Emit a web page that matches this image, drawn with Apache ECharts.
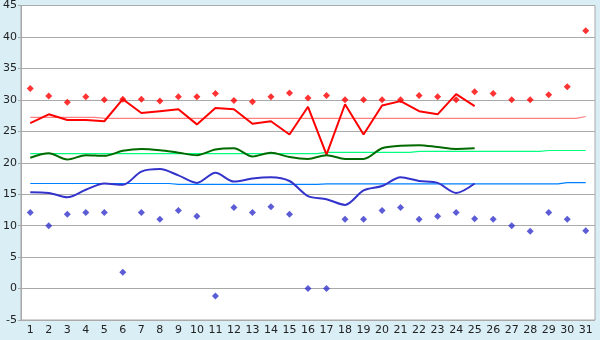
<!DOCTYPE html>
<html>
<head>
<meta charset="utf-8">
<script src="https://cdn.jsdelivr.net/npm/echarts@6/dist/echarts.min.js"></script>
<style>
  html, body { margin: 0; padding: 0; background: #daeef6; }
  #chart { width: 600px; height: 340px; }
</style>
</head>
<body>
<div id="chart"></div>
<script>
// days of the month
var days = [];
for (var d = 1; d <= 31; d++) days.push(String(d));

// daily mean max / mean / mean min (days 1-25)
var maxLine = [26.3, 27.7, 26.8, 26.8, 26.6, 30.1, 27.9, 28.2, 28.5, 26.1,
               28.7, 28.5, 26.2, 26.6, 24.5, 28.9, 21.3, 29.3, 24.5, 29.1,
               29.8, 28.2, 27.7, 30.9, 29.0];
var meanLine = [20.8, 21.5, 20.5, 21.2, 21.1, 21.9, 22.2, 22.0, 21.6, 21.2,
                22.1, 22.3, 21.0, 21.6, 20.9, 20.6, 21.2, 20.6, 20.6, 22.3,
                22.7, 22.8, 22.5, 22.2, 22.3];
var minLine = [15.3, 15.2, 14.5, 15.7, 16.7, 16.5, 18.6, 19.0, 18.0, 16.8,
               18.4, 17.0, 17.5, 17.7, 17.1, 14.7, 14.2, 13.3, 15.6, 16.3,
               17.7, 17.1, 16.8, 15.2, 16.7];

// record highs / lows per day
var maxPoints = [31.8, 30.6, 29.6, 30.5, 30.0, 30.1, 30.1, 29.8, 30.5, 30.5,
                 31.0, 29.9, 29.7, 30.5, 31.1, 30.3, 30.7, 30.0, 30.0, 30.0,
                 30.0, 30.7, 30.5, 30.0, 31.3, 31.0, 30.0, 30.0, 30.8, 32.1,
                 41.0];
var minPoints = [12.1, 10.0, 11.8, 12.1, 12.1, 2.6, 12.1, 11.0, 12.4, 11.5,
                 -1.2, 12.9, 12.1, 13.0, 11.8, 0.0, 0.0, 11.0, 11.0, 12.4,
                 12.9, 11.0, 11.5, 12.1, 11.1, 11.0, 10.0, 9.1, 12.1, 11.0,
                 9.2];

// long-term normals
var normMax = [27.2, 27.2, 27.2, 27.2, 27.05, 27.05, 27.05, 27.05, 27.05, 27.05,
               27.05, 27.05, 27.05, 27.05, 27.05, 27.05, 27.05, 27.05, 27.05, 27.05,
               27.05, 27.05, 27.05, 27.05, 27.05, 27.05, 27.05, 27.05, 27.05, 27.05,
               27.35];
var normMean = [21.45, 21.45, 21.45, 21.45, 21.45, 21.45, 21.45, 21.45, 21.45, 21.45,
                21.45, 21.45, 21.45, 21.45, 21.45, 21.45, 21.65, 21.65, 21.65, 21.65,
                21.65, 21.8, 21.8, 21.8, 21.8, 21.8, 21.8, 21.8, 21.95, 21.95,
                21.95];
var normMin = [16.7, 16.7, 16.7, 16.7, 16.7, 16.7, 16.7, 16.7, 16.55, 16.55,
               16.55, 16.55, 16.55, 16.55, 16.55, 16.55, 16.65, 16.65, 16.65, 16.65,
               16.65, 16.65, 16.65, 16.65, 16.65, 16.65, 16.65, 16.65, 16.65, 16.85,
               16.85];

var chart = echarts.init(document.getElementById('chart'));

function lineSeries(data, color, width, smooth) {
    return {
        type: 'line', data: data, symbol: 'none', smooth: smooth,
        lineStyle: { color: color, width: width }, animation: false
    };
}
function stepSeries(data, color) {
    return {
        type: 'line', data: data, symbol: 'none', step: 'middle',
        lineStyle: { color: color, width: 1.2 }, animation: false, z: 1
    };
}
function dotSeries(data, color) {
    return {
        type: 'scatter', data: data, symbol: 'diamond', symbolSize: 7,
        itemStyle: { color: color }, animation: false
    };
}

var option = {
    backgroundColor: '#daeef6',
    grid: {
        left: 20, right: 5, top: 5, bottom: 20,
        show: true, backgroundColor: '#ffffff', borderColor: '#a8a8a8', borderWidth: 1
    },
    xAxis: {
        type: 'category',
        data: days,
        boundaryGap: true,
        axisLine: { lineStyle: { color: '#a8a8a8' } },
        axisTick: { alignWithLabel: true, length: 4, lineStyle: { color: '#333' } },
        axisLabel: { color: '#222', fontFamily: 'DejaVu Sans', fontSize: 11, margin: 5, interval: 0 },
        splitLine: { show: false }
    },
    yAxis: {
        type: 'value',
        min: -5, max: 45, interval: 5,
        axisLine: { show: true, lineStyle: { color: '#a8a8a8' } },
        axisTick: { show: true, length: 3, lineStyle: { color: '#a8a8a8' } },
        axisLabel: { color: '#222', fontFamily: 'DejaVu Sans', fontSize: 11, margin: 4 },
        splitLine: { lineStyle: { color: '#aaaaaa', width: 1 } }
    },
    series: [
        stepSeries(normMax, '#ff8080'),
        stepSeries(normMean, '#00ff80'),
        stepSeries(normMin, '#0080ff'),
        lineSeries(maxLine, '#ff0000', 2, false),
        lineSeries(meanLine, '#006a00', 2, 0.3),
        lineSeries(minLine, '#3333cc', 2, 0.3),
        dotSeries(maxPoints, '#ff0000'),
        dotSeries(minPoints, '#3333cc')
    ]
};

chart.setOption(option);
</script>
</body>
</html>
